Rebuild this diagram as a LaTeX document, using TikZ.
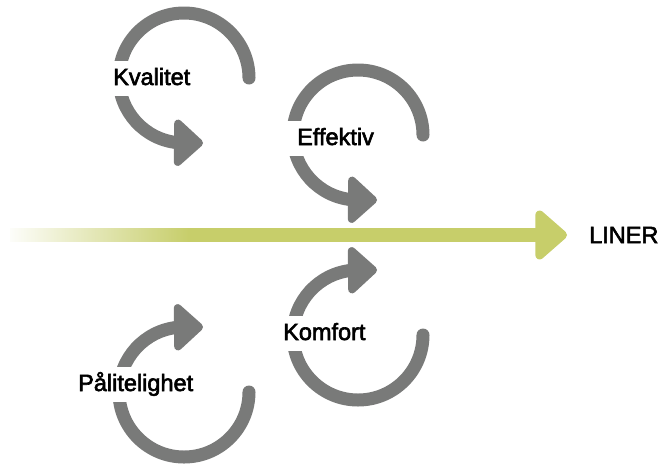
\documentclass[tikz,border=0pt]{standalone}
\usepackage{fontspec}
\newfontfamily\lblfont[RawFeature={embolden=2.5}]{Liberation Sans}
\usepackage{xcolor}
\usetikzlibrary{arrows.meta, positioning, fadings}

\definecolor{loopgray}{RGB}{121,122,121}
\definecolor{linergreen}{RGB}{199,206,106}

\begin{document}
\begin{tikzpicture}[
    x=1pt, y=-1pt,
    lbl/.style={fill=white, font=\lblfont\fontsize{23.5}{23.5}\selectfont, text height=17pt, text depth=4pt, inner ysep=7pt, inner xsep=12pt, anchor=base west},
    loop/.style={draw=loopgray, line width=13pt, line cap=round, -{Triangle[width=54pt, length=31pt, round]}},
    mainarrow/.style={draw=linergreen, line width=14pt, -{Triangle[width=57pt, length=34pt, round]}}
]
    \useasboundingbox (0,0) rectangle (663,464);

    % Centres of the loops
    \coordinate (kv) at (184,78);
    \coordinate (ef) at (358,135);
    \coordinate (ko) at (358,335);
    \coordinate (pa) at (184,392);

    % Main line
    \node[font=\lblfont\fontsize{23.5}{23.5}\selectfont, anchor=west, inner sep=0pt] (liner) at (589,235) {LINER};
    \coordinate (fade) at (10,235);
    \coordinate (solid) at (190,235);
    \draw[mainarrow] (fade) -- ([xshift=-22pt]liner.west);
    \fill[white, path fading=east] ([xshift=-6pt, yshift=-15pt]fade) rectangle ([yshift=15pt]solid);

    % Loops
    \draw[loop] ([xshift=65pt]kv) arc[start angle=0, end angle=-265, radius=65] -- ([xshift=19pt, yshift=-65pt]kv);
    \draw[loop] ([xshift=65pt]ef) arc[start angle=0, end angle=-265, radius=65] -- ([xshift=19pt, yshift=-65pt]ef);
    \draw[loop] ([xshift=65pt]ko) arc[start angle=0, end angle=265, radius=65] -- ([xshift=19pt, yshift=65pt]ko);
    \draw[loop] ([xshift=65pt]pa) arc[start angle=0, end angle=265, radius=65] -- ([xshift=19pt, yshift=65pt]pa);

    % Labels
    \node[lbl] (kvalitet) at (101,85) {Kvalitet};
    \node[lbl] (effektiv) at (285,145) {Effektiv};
    \node[lbl] (komfort) at (271,340) {Komfort};
    \node[lbl] (palitelighet) at (66,391) {Pålitelighet};
\end{tikzpicture}
\end{document}
